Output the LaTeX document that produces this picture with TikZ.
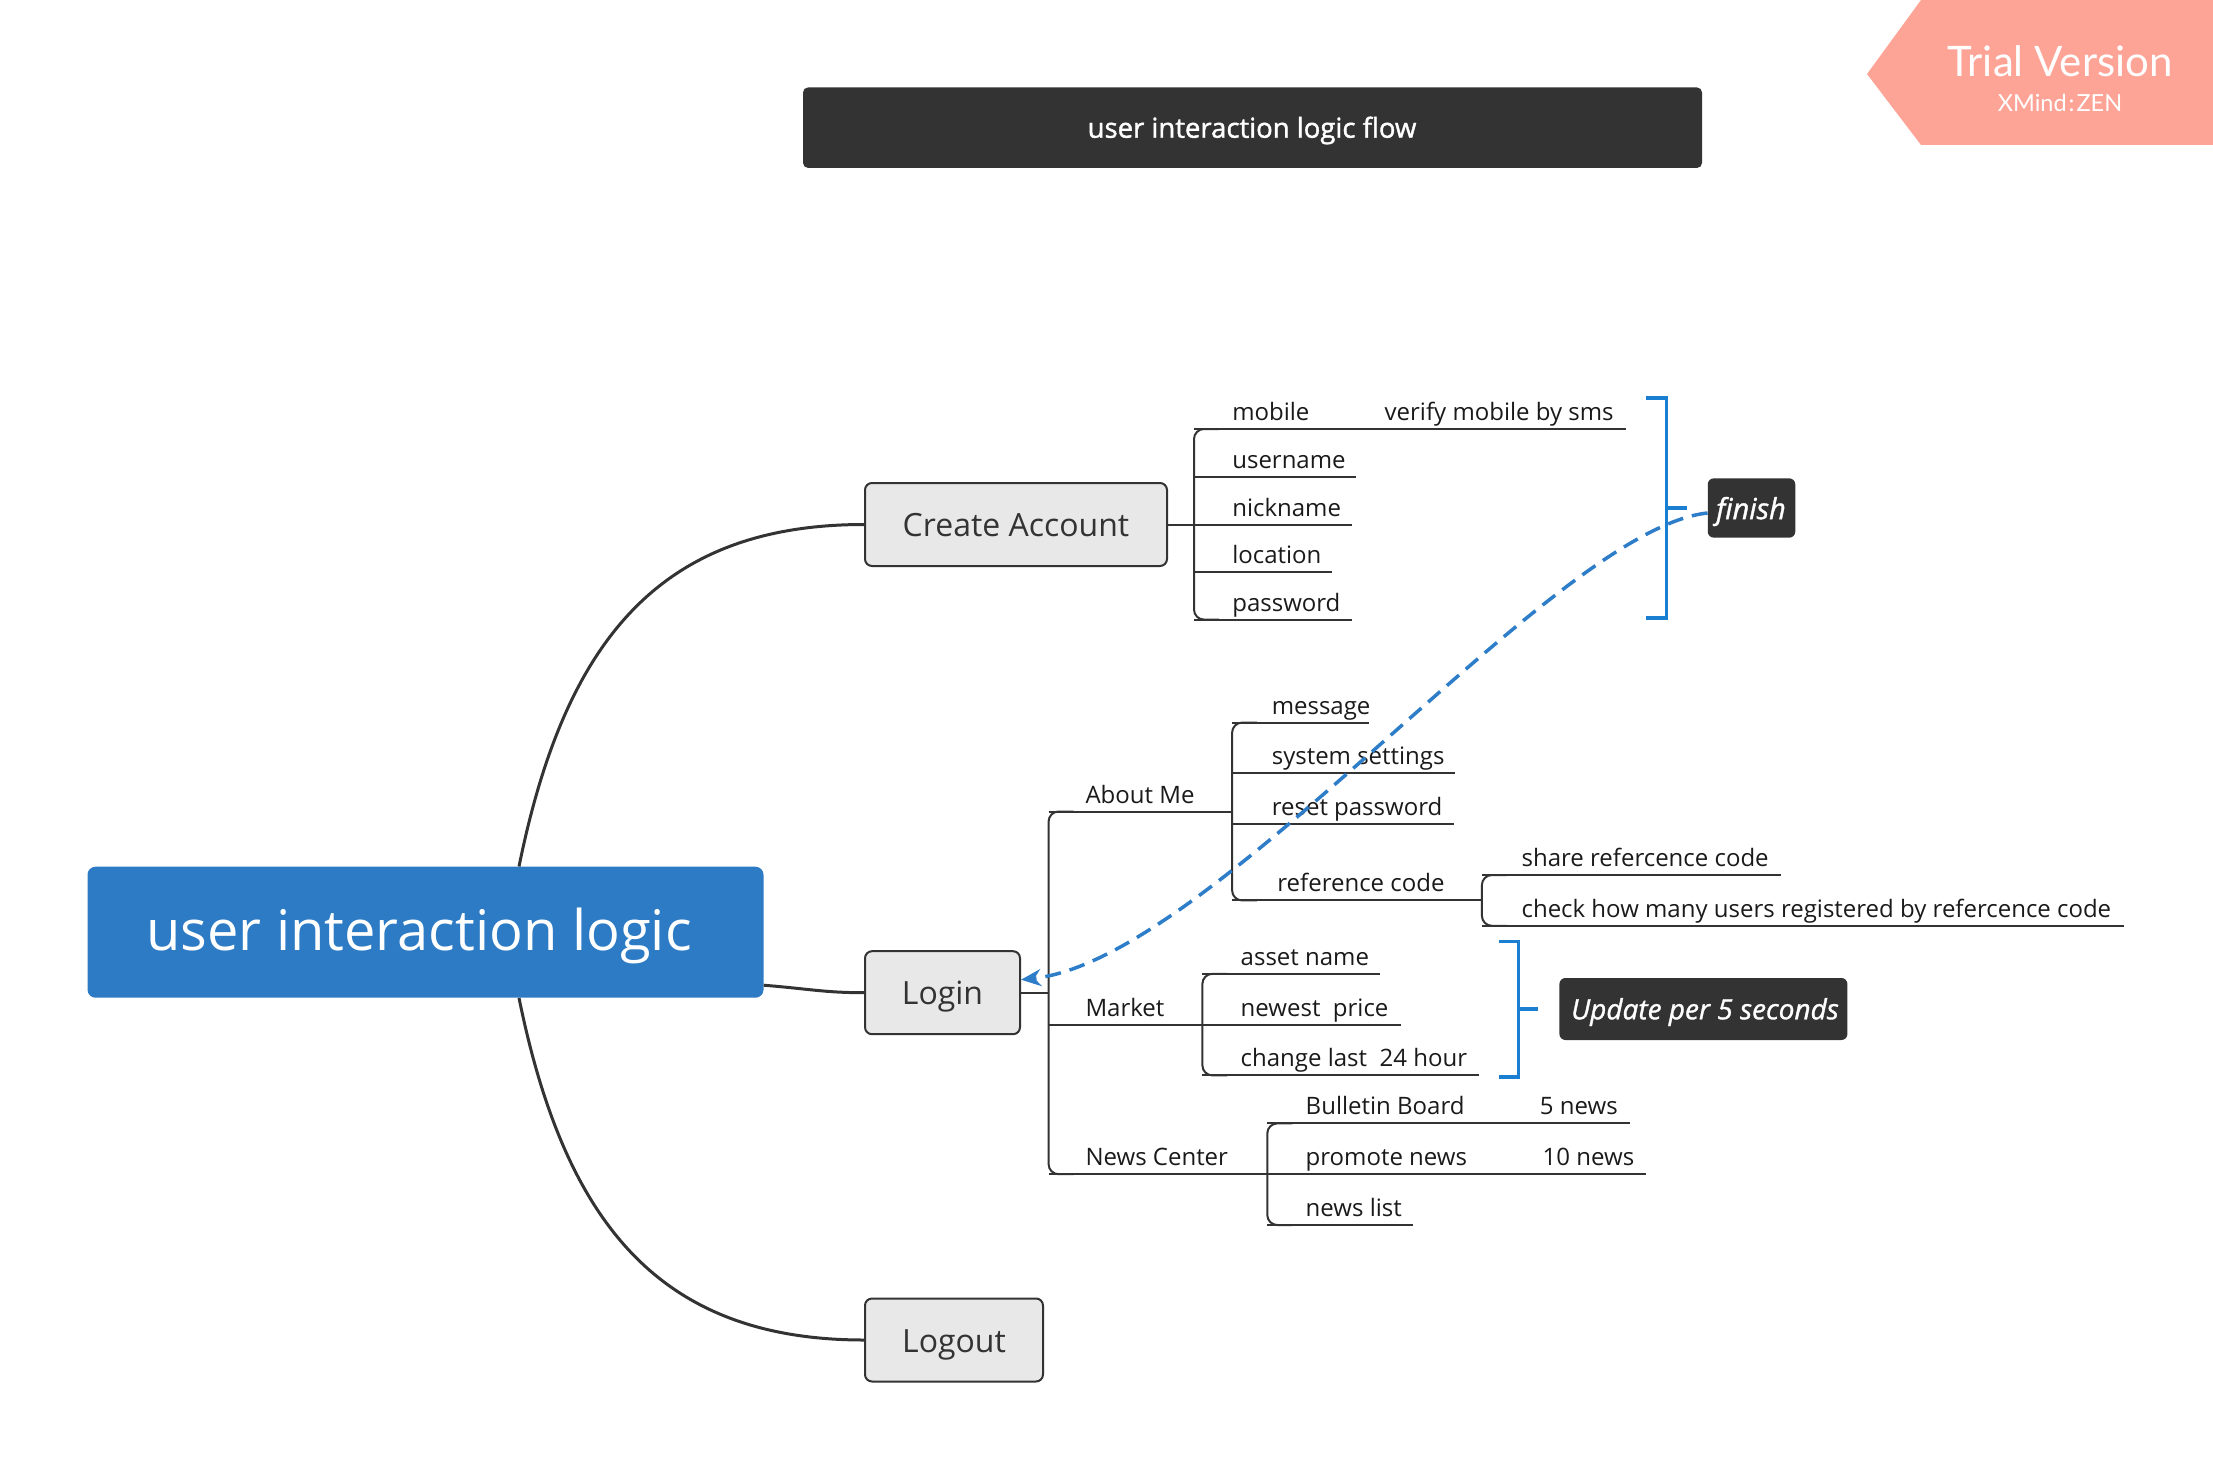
\documentclass[tikz,border=0pt]{standalone}
\usepackage{fontspec}
\usepackage{graphicx}
\setmainfont{Open Sans}
\newfontfamily\badgefont{Lato}
\newfontfamily\semifont[FakeBold=1.5]{Open Sans}
\newfontfamily\tagfont[FakeBold=1.2]{Open Sans Italic}
\usetikzlibrary{arrows.meta}
\definecolor{dark}{HTML}{333333}
\definecolor{centralc}{HTML}{2C7BC4}
\definecolor{boxfill}{HTML}{E8E8E8}
\definecolor{brk}{HTML}{1B7FD1}
\definecolor{dashc}{HTML}{2E7DC8}
\definecolor{badgec}{HTML}{FDA497}
\definecolor{txt}{HTML}{1A1A1A}
\tikzset{
 leaf/.style={anchor=base west, inner sep=0pt, font=\fontsize{24}{28}\selectfont, text=txt},
 sub/.style={draw=dark, line width=2pt},
 topic/.style={draw=dark, line width=2pt, fill=boxfill, rounded corners=7pt, font=\fontsize{32}{36}\selectfont, text=dark, minimum height=83pt, inner sep=0pt, text height=25pt, text depth=1pt},
 mainline/.style={line width=3pt, draw=dark},
 bracket/.style={draw=brk, line width=3.5pt},
 tag/.style={fill=dark, rounded corners=6pt, inner sep=0pt},
 taglabel/.style={text=white, font=\tagfont\fontsize{29}{32}\selectfont, inner sep=0pt},
}
% name, vertical x, text x, line y, line end x, text
\newcommand{\leafitem}[6]{%
  \coordinate (#1-l) at (#2,#4);
  \coordinate (#1-r) at (#5,#4);
  \node[leaf] (#1) at (#3,{#4-8.5}) {#6};
  \draw[sub] (#1-l) -- (#1-r);
}
\newcommand{\vbranch}[2]{%
  \draw[sub, rounded corners=10pt] ([xshift=25pt]#1-l) -- (#1-l) -- (#2-l) -- ([xshift=25pt]#2-l);
}
\begin{document}
\begin{tikzpicture}[x=1pt,y=-1pt]
\useasboundingbox (0,0) rectangle (2213,1471);

% trial badge
\fill[badgec] (1867,74) -- (1921,0) -- (2213,0) -- (2213,145) -- (1921,145) -- cycle;
\node[text=white, font=\badgefont\fontsize{42}{46}\selectfont, inner sep=0pt] (trial) at (2060,61) {Trial Version};
\node[text=white, font=\badgefont\fontsize{23.5}{28}\selectfont, inner sep=0pt] (zen) at (2060,103) {XMind\kern2pt:\kern2pt ZEN};

% title
\node[fill=dark, rounded corners=5pt, minimum width=899pt, minimum height=80.5pt, inner sep=0pt] (title) at (1252.5,127.7) {};
\node[text=white, font=\semifont\fontsize{27.5}{32}\selectfont, inner sep=0pt] (titlelabel) at (1252,130.5) {user interaction logic flow};

% central and main topics
\node[fill=centralc, rounded corners=8pt, minimum width=676pt, minimum height=131pt, inner sep=0pt] (central) at (425.5,932.2) {};
\node[text=white, font=\fontsize{56}{60}\selectfont, inner sep=0pt] (centrallabel) at (419,936) {user interaction logic};
\node[topic, minimum width=302pt] (create) at (1016,524.5) {Create Account};
\node[topic, minimum width=155pt] (login) at (942.5,992.7) {Login};
\node[topic, minimum width=178pt] (logout) at (954,1340) {Logout};

\draw[mainline] ([xshift=93.5pt]central.north) .. controls (565,640) and (660,524.5) .. (create.west);
\draw[mainline] ([xshift=93.5pt]central.south) .. controls (565,1224) and (660,1340) .. (logout.west);
\draw[mainline] ([yshift=-53pt]central.east) .. controls (810,989) and (825,992.7) .. (login.west);

% Create Account children
\leafitem{mobile}{1194}{1232.1}{429.0}{1625.8}{mobile}
\leafitem{username}{1194}{1232.1}{477.0}{1356.3}{username}
\leafitem{nickname}{1194}{1232.1}{525.0}{1352.0}{nickname}
\leafitem{location}{1194}{1232.1}{571.6}{1332.3}{location}
\leafitem{password}{1194}{1232.1}{619.6}{1352.0}{password}
\node[leaf] (verify) at (1384.5,420.5) {verify mobile by sms};
\vbranch{mobile}{password}
\draw[sub] (create.east) -- (create.east -| mobile-l);

% Login children
\leafitem{aboutme}{1048.6}{1085.3}{811.5}{1232.1}{About Me}
\leafitem{market}{1048.6}{1085.3}{1024.6}{1202.4}{Market}
\leafitem{newscenter}{1048.6}{1085.3}{1174.2}{1267.3}{News Center}
\vbranch{aboutme}{newscenter}
\draw[sub] (login.east) -- (login.east -| aboutme-l);

% About Me children
\leafitem{message}{1232.1}{1271.6}{722.6}{1369.0}{message}
\leafitem{syssettings}{1232.1}{1271.6}{773.4}{1455.1}{system settings}
\leafitem{resetpw}{1232.1}{1271.6}{824.2}{1453.6}{reset password}
\leafitem{refcode}{1232.1}{1277.2}{900.4}{1481.9}{reference code}
\vbranch{message}{refcode}

% reference code children
\leafitem{share}{1481.9}{1521.4}{875.0}{1781.1}{share refercence code}
\leafitem{check}{1481.9}{1521.4}{925.8}{2124.0}{check how many users registered by refercence code}
\vbranch{share}{check}

% Market children
\leafitem{asset}{1202.4}{1240.5}{973.8}{1380.2}{asset name}
\leafitem{newest}{1202.4}{1240.5}{1024.6}{1401.4}{newest~ price}
\leafitem{change}{1202.4}{1240.5}{1075.4}{1479.0}{change last~ 24 hour}
\vbranch{asset}{change}

% News Center children
\leafitem{bulletin}{1267.3}{1305.5}{1123.4}{1630.1}{Bulletin Board}
\leafitem{promote}{1267.3}{1305.5}{1174.2}{1645.6}{promote news}
\leafitem{newslist}{1267.3}{1305.5}{1225.0}{1412.7}{news list}
\node[leaf] (fivenews) at (1539.7,1114.9) {5 news};
\node[leaf] (tennews) at (1542.5,1165.7) {10 news};
\vbranch{bulletin}{newslist}

% summaries
\node[tag, minimum width=87.5pt, minimum height=59.3pt] (finish) at (1751.5,508) {};
\node[taglabel] (finishlabel) at (1751,511.5) {finish};
\node[tag, minimum width=288pt, minimum height=62pt] (update) at (1703.4,1009) {};
\node[taglabel, font=\tagfont\fontsize{28}{32}\selectfont] (updatelabel) at (1705,1012) {Update per 5 seconds};

\coordinate (b1t) at (1645.6,398.0);
\coordinate (b1b) at (1645.6,618.1);
\draw[bracket] (b1t) -- (1666.7,398.0) -- (1666.7,618.1) -- (b1b);
\draw[bracket] (1666.7,508.1) -- (1686.5,508.1);

\coordinate (b2t) at (1498.8,941.3);
\coordinate (b2b) at (1498.8,1076.8);
\draw[bracket] (b2t) -- (1518.6,941.3) -- (1518.6,1076.8) -- (b2b);
\draw[bracket] (1518.6,1009.1) -- (1538.3,1009.1);

% relationship
\draw[dashc, line width=3.5pt, dash pattern=on 16pt off 9pt, -{Stealth[length=20pt,width=17pt]}]
  ([yshift=-5pt]finish.west) .. controls (1552.4,529.2) and (1213.7,959.7) .. ([yshift=13pt]login.east);
\end{tikzpicture}
\end{document}
